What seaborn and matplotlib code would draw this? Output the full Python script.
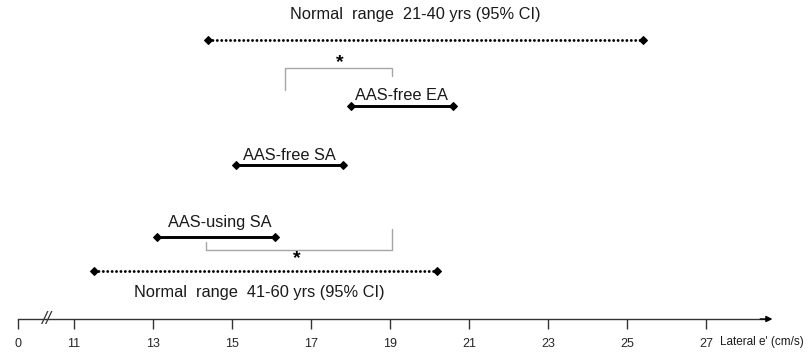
import matplotlib.pyplot as plt
import pandas as pd
import seaborn as sns

# Interval data (lateral e', cm/s)
groups = ['Normal  range  21-40 yrs (95% CI)', 'AAS-free EA', 'AAS-free SA',
          'AAS-using SA', 'Normal  range  41-60 yrs (95% CI)']
kinds = ['ci', 'group', 'group', 'group', 'ci']
lower = [14.4, 18.0, 15.1, 13.1, 11.5]
upper = [25.4, 20.6, 17.8, 16.1, 20.2]

# Significance brackets (x ends)
bracket_left = [16.35, 14.35]
bracket_right = [19.05, 19.05]

tick_values = [0, 11, 13, 15, 17, 19, 21, 23, 25, 27]

# Layout (pixel-like rows, top = 0)
rows = [40, 106, 165, 237, 271]
label_rows = [15, 96, 155, 223, 292]
label_shift = [-0.25, 0, 0, 0.1, -0.15]
axis_row = 319
zero_pos = 9.57

df = pd.DataFrame({
    'group': groups * 2,
    'kind': kinds * 2,
    'row': rows * 2,
    'value': lower + upper,
})

sns.set_theme(style='white')
plt.rcParams['font.family'] = ['Liberation Sans', 'DejaVu Sans']

fig = plt.figure(figsize=(8.1, 3.52), dpi=100)
ax = fig.add_axes([0, 0, 1, 1])

sns.lineplot(data=df, x='value', y='row', units='group', estimator=None,
             style='kind', dashes={'ci': (0.01, 1.5), 'group': ''},
             markers={'ci': 'D', 'group': 'D'}, color='black', lw=2.1,
             markersize=4, markeredgecolor='black', legend=False, sort=True, ax=ax)
for line in ax.lines:
    line.set_dash_capstyle('round')

# Group labels
for g, lo, hi, ly, sh in zip(groups, lower, upper, label_rows, label_shift):
    ax.text((lo + hi) / 2 + sh, ly, g, ha='center', va='center', fontsize=11.8,
            color='#1a1a1a')

# Brackets with asterisks
grey = '#a6a6a6'
ax.plot([bracket_left[0], bracket_left[0], bracket_right[0], bracket_right[0]],
        [90, 68, 68, 76], color=grey, lw=1)
ax.text(17.72, 63, '*', ha='center', va='center', fontsize=14, fontweight='bold',
        color='black')
ax.plot([bracket_left[1], bracket_left[1], bracket_right[1], bracket_right[1]],
        [242, 250, 250, 229], color=grey, lw=1)
ax.text(16.65, 259, '*', ha='center', va='center', fontsize=14, fontweight='bold',
        color='black')

ax.set_xlim(9.127, 29.63)
ax.set_ylim(352, 0)

# Axis
for s in ['top', 'right', 'left']:
    ax.spines[s].set_visible(False)
ax.spines['bottom'].set_position(('data', axis_row))
ax.spines['bottom'].set_bounds(zero_pos, 28.6)
ax.spines['bottom'].set_color('#333333')
ax.spines['bottom'].set_linewidth(1)
tick_pos = [zero_pos if v == 0 else v for v in tick_values]
ax.set_xticks(tick_pos)
ax.set_xticklabels([str(v) for v in tick_values])
ax.tick_params(axis='x', direction='out', length=7, width=1, color='#333333',
               labelsize=9, pad=7, bottom=True)
ax.set_yticks([])
ax.set_xlabel('')
ax.set_ylabel('')
ax.annotate('', xy=(28.75, axis_row), xytext=(28.3, axis_row),
            arrowprops=dict(arrowstyle='-|>', color='black', lw=1, mutation_scale=9))
ax.text(10.3, axis_row, '//', ha='center', va='center', fontsize=13, style='italic',
        color='#333333')
ax.text(27.35, 342, "Lateral e' (cm/s)", ha='left', va='center', fontsize=8.5,
        color='#1a1a1a')

fig.savefig('out.png', dpi=100)
